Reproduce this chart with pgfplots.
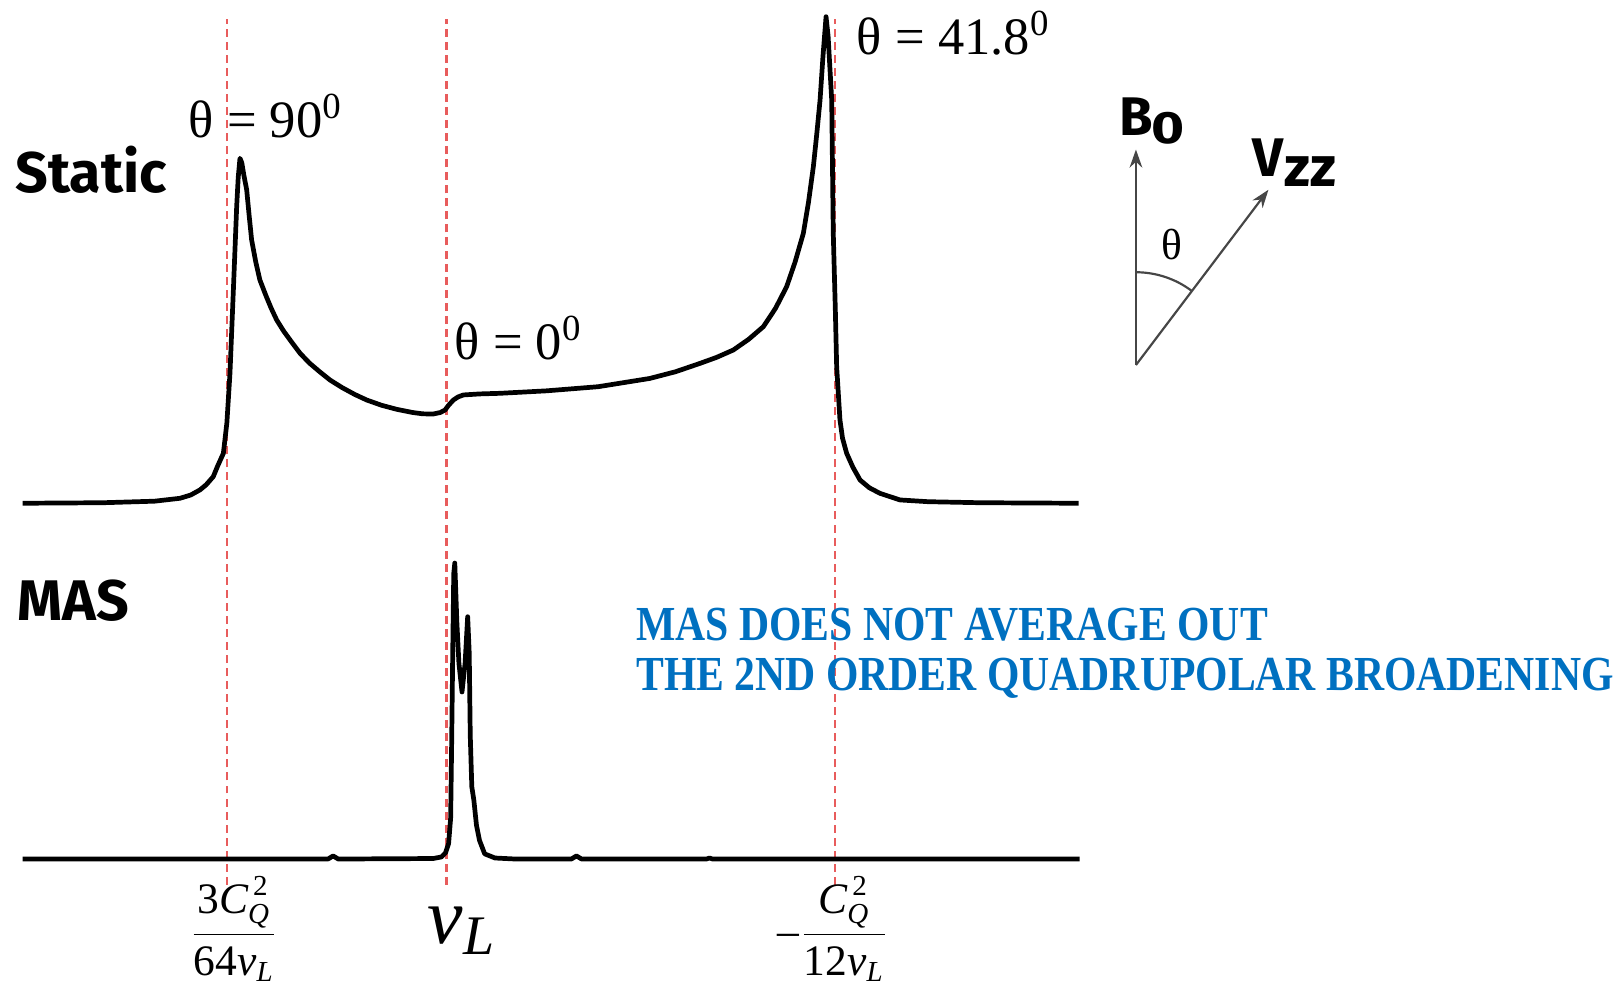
\documentclass[border=0pt]{standalone}
\usepackage{amsmath}
\usepackage{fontspec}
\usepackage{pgfplots}
\usepackage{pgfplotstable}
\pgfplotsset{compat=1.18}
\usetikzlibrary{arrows.meta}
\setmainfont{Liberation Serif}
\newfontfamily\labelsans{Fira Sans}
\definecolor{noteblue}{RGB}{0,112,192}
\definecolor{guidered}{RGB}{232,92,92}
\definecolor{vecgray}{RGB}{70,70,70}

% static powder pattern: position, intensity above baseline
\pgfplotstableread{
x I
22 0
100 0.5
150 2
174.5 4.8
185 8
194 13
200 18
206.8 25.8
211 36
216.6 48.4
220 78
223 126
226.3 206.8
229.5 287.6
231 316
232.7 334.5
234.5 330
236.5 318
239.2 304
241.5 280
244 255.3
248 234
252 216.5
258 201
263 189
268.3 177.7
275 167
283 156
291 145.4
300 136
310 127.5
320 119.5
332 112
344 105.5
355.6 100.1
370 95
385 91
400 88
410 86.7
420 86.5
427 88
431.5 90.4
435 95
439.6 100.1
444 103
449.3 105
465 106
484.8 106.6
530 109
580 113
630 121
655 127.5
679 135.7
695 141.5
711.1 148.6
726 159
740.2 171.2
752 189
762.8 210
771 234
779 261.8
784 292
788.7 326.4
792 358
795.2 391
798 433
801 471.8
803 453
806.5 391
808 262
810 188
811.3 132.4
814.5 80.7
817 63
821 48.4
827 35
834 22.5
843 15
853.3 9.6
872.7 3.2
900 1.5
950 0.5
1046 0
}\staticdata

% MAS spectrum: position, intensity above baseline
\pgfplotstableread{
x I
22 0
200 0
318 0
323 3
328 0
420 0.5
428 2
432 6
435 15
437 40
438 115
439 200
440 277
441 287
443 230
445 190
448 162
451 190
453.5 235
455 200
456 120
457.5 70
459.5 57
462 33
465 18
470 5
480 1
500 0
554 0
559 3
564 0
685 0
688 1
691 0
1047 0
}\masdata

\begin{document}
\begin{tikzpicture}[every node/.style={inner sep=0pt, outer sep=0pt}]
\begin{axis}[
  width=15.68cm, height=9.55cm, scale only axis,
  xmin=0, xmax=1568, ymin=0, ymax=955,
  hide axis, clip=false,
]
% guide lines at the characteristic frequencies
\foreach \gx in {220,433,810} {
  \edef\temp{\noexpand\draw[guidered, line width=0.6pt, dash pattern=on 2.2pt off 1.4pt]
    (axis cs:\gx,97) -- (axis cs:\gx,937);}
  \temp
}

\addplot[black, line width=1.3pt, line join=round] table[x=x, y expr=\thisrow{I}+467] {\staticdata};
\addplot[black, line width=1.3pt, line join=round] table[x=x, y expr=\thisrow{I}+122] {\masdata};

% angle labels
\node[anchor=base west, font=\fontsize{14.5}{17}\selectfont] at (axis cs:183,822) {θ = 90\textsuperscript{0}};
\node[anchor=base west, font=\fontsize{14.5}{17}\selectfont] at (axis cs:441,606) {θ = 0\textsuperscript{0}};
\node[anchor=base west, font=\fontsize{14.5}{17}\selectfont] at (axis cs:831,902) {θ = 41.8\textsuperscript{0}};

% spectrum names
\node[anchor=base west, font=\labelsans\bfseries\fontsize{15.8}{18}\selectfont] at (axis cs:15,768) {Static};
\node[anchor=base west, font=\labelsans\bfseries\fontsize{15.8}{18}\selectfont] at (axis cs:17,353) {MAS};

% remark
\node[anchor=base west, text=noteblue, font=\bfseries\fontsize{13.5}{16}\selectfont] at (axis cs:617,334) {\scalebox{0.852}[1]{MAS DOES NOT AVERAGE OUT}};
\node[anchor=base west, text=noteblue, font=\bfseries\fontsize{13.5}{16}\selectfont] at (axis cs:617,285) {\scalebox{0.852}[1]{THE 2ND ORDER QUADRUPOLAR BROADENING}};

% orientation of the EFG principal axis relative to B0
\draw[vecgray, line width=0.6pt, -{Stealth[length=5pt,width=3.5pt]}] (axis cs:1101.5,601) -- (axis cs:1101.5,810);
\draw[vecgray, line width=0.6pt, -{Stealth[length=5pt,width=3.5pt]}] (axis cs:1101.5,601) -- (axis cs:1230,771);
\draw[vecgray, line width=0.6pt] (axis cs:1101.5,691) arc[start angle=90, end angle=52.9, radius=0.9cm];
\node[font=\fontsize{12}{14}\selectfont] at (axis cs:1136,718) {θ};
\node[anchor=base west, font=\labelsans\bfseries\fontsize{15}{16}\selectfont] at (axis cs:1086,824) {B};
\node[anchor=base west, font=\labelsans\bfseries\fontsize{12.5}{14}\selectfont] at (axis cs:1117,816) {\scalebox{1.25}[1]{0}};
\node[anchor=base west, font=\labelsans\bfseries\fontsize{15}{16}\selectfont] at (axis cs:1215,784) {V};
\node[anchor=base west, font=\labelsans\bfseries\fontsize{15.5}{16}\selectfont] at (axis cs:1246,774) {zz};

% frequency positions
\node[font=\fontsize{12}{14}\selectfont] at (axis cs:227,54)
  {$\displaystyle\frac{\text{3}\textit{C}^{\,\text{2}}_{\textit{Q}}}{\text{64}\textit{ν}_{\textit{L}}}$};
\node[anchor=base west, font=\fontsize{22}{26}\selectfont] at (axis cs:415,40) {$\textit{ν}_{\textit{L}}$};
\node[font=\fontsize{12}{14}\selectfont] at (axis cs:808,54)
  {$\displaystyle\text{–}\frac{\textit{C}^{\,\text{2}}_{\textit{Q}}}{\text{12}\textit{ν}_{\textit{L}}}$};
\end{axis}
\pgfresetboundingbox
\path[use as bounding box] (current axis.south west) rectangle (current axis.north east);
\end{tikzpicture}
\end{document}
